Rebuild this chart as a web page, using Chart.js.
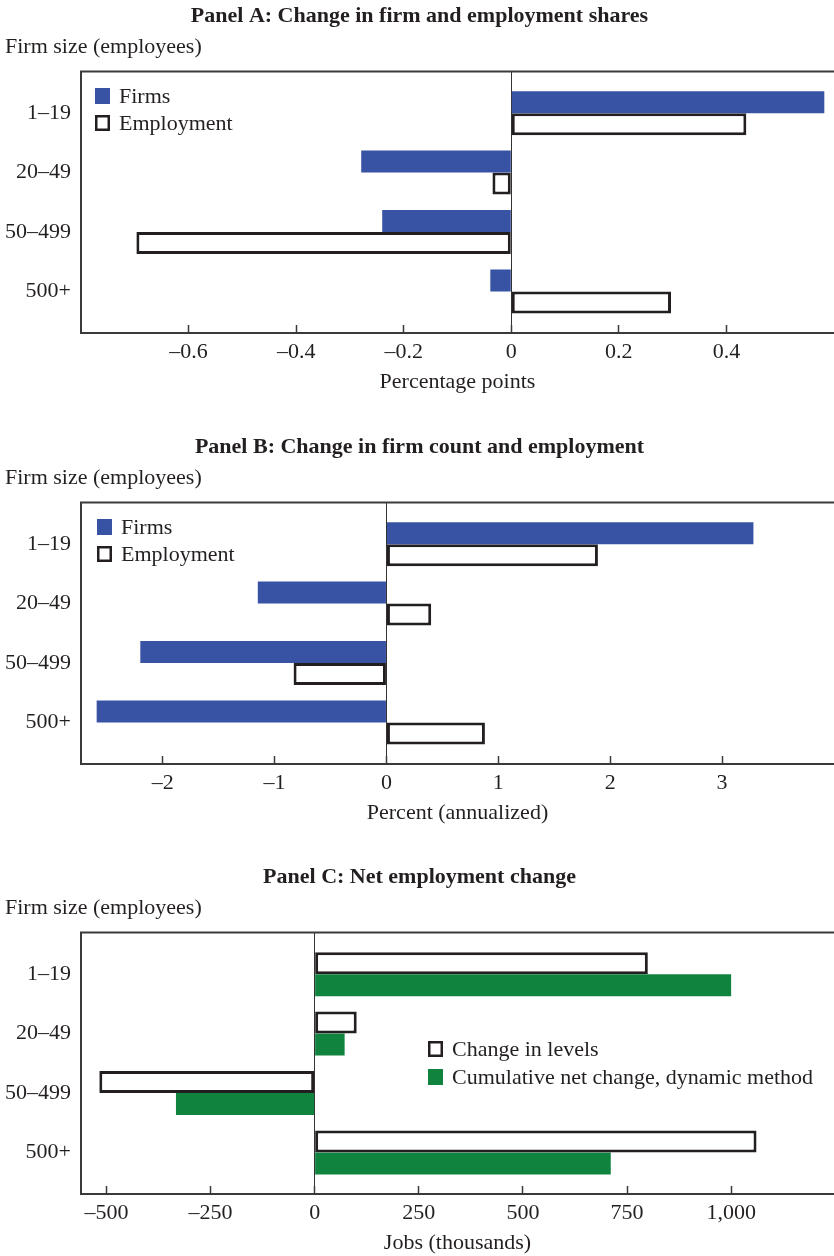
<!DOCTYPE html>
<html><head><meta charset="utf-8">
<script src="https://cdn.jsdelivr.net/npm/chart.js@4.4.0/dist/chart.umd.min.js"></script>
<style>
html,body{margin:0;padding:0;background:#fff;}
#wrap{position:relative;width:834px;height:1256px;overflow:hidden;background:#fff;}
.panel{position:absolute;left:0;width:834px;height:395px;}
</style></head><body>
<div id="wrap">
<div class="panel" style="top:0px"><canvas id="cA" width="834" height="395"></canvas></div>
<div class="panel" style="top:431px"><canvas id="cB" width="834" height="395"></canvas></div>
<div class="panel" style="top:861px"><canvas id="cC" width="834" height="395"></canvas></div>
</div>
<script>
// ---- data ----
const categories = ['1–19', '20–49', '50–499', '500+'];

const panelA_firms = [0.582, -0.279, -0.240, -0.039];
const panelA_employment = [0.437, -0.035, -0.697, 0.297];
const panelA_ticks = [-0.6, -0.4, -0.2, 0, 0.2, 0.4];

const panelB_firms = [3.28, -1.15, -2.20, -2.59];
const panelB_employment = [1.89, 0.40, -0.83, 0.88];
const panelB_ticks = [-2, -1, 0, 1, 2, 3];

const panelC_levels = [800, 101, -517, 1061];
const panelC_dynamic = [1000, 72, -333, 711];
const panelC_ticks = [-500, -250, 0, 250, 500, 750, 1000];

// ---- styling ----
const FONT = 'Liberation Serif';
const INK = '#231f20';
const BLUE = '#3953a4';
const GREEN = '#10843f';

function fmt(v) {
  const a = Math.abs(v).toLocaleString('en-US', {maximumFractionDigits: 2});
  return (v < 0 ? '–' : '') + a;
}
function toPoints(arr) { return arr.map((v, i) => ({x: v, y: i})); }

function filled(label, arr, color) {
  return {label, data: toPoints(arr), backgroundColor: color, borderWidth: 0, _outline: false};
}
function outline(label, arr) {
  return {label, data: toPoints(arr), backgroundColor: '#ffffff', borderColor: INK,
          borderWidth: 3, borderSkipped: false, _outline: true};
}

const framePlugin = {
  id: 'frame',
  beforeDatasetsDraw(chart) {
    const {ctx, chartArea: a} = chart;
    ctx.save();
    ctx.strokeStyle = '#3a3a3a';
    ctx.lineWidth = 2;
    ctx.beginPath();
    ctx.moveTo(a.right + 2, a.top);
    ctx.lineTo(a.left, a.top);
    ctx.lineTo(a.left, a.bottom);
    ctx.lineTo(a.right + 2, a.bottom);
    ctx.stroke();
    ctx.restore();
  }
};

const innerLegend = {
  id: 'innerLegend',
  afterDatasetsDraw(chart, args, opts) {
    const ctx = chart.ctx;
    ctx.save();
    ctx.font = '22px "' + FONT + '"';
    ctx.textBaseline = 'middle';
    ctx.textAlign = 'left';
    chart.data.datasets.forEach((ds, i) => {
      const x = opts.x, y = opts.y + i * opts.row;
      if (ds._outline) {
        ctx.fillStyle = INK;
        ctx.fillRect(x, y, 15, 16);
        ctx.fillStyle = '#fff';
        ctx.fillRect(x + 2.5, y + 2.5, 10, 11);
      } else {
        ctx.fillStyle = ds.backgroundColor;
        ctx.fillRect(x, y, 15, 16);
      }
      ctx.fillStyle = INK;
      ctx.fillText(ds.label, x + 24, y + 9);
    });
    ctx.restore();
  }
};

function makePanel(id, title, xTitle, datasets, xMin, xMax, tickVals, legend) {
  return new Chart(document.getElementById(id), {
    type: 'bar',
    data: {datasets},
    plugins: [framePlugin, innerLegend],
    options: {
      indexAxis: 'y',
      responsive: false,
      animation: false,
      layout: {padding: {left: 5, right: 0, top: 0, bottom: 0}},
      datasets: {bar: {categoryPercentage: 0.74, barPercentage: 1.0}},
      plugins: {
        legend: {display: false},
        tooltip: {enabled: false},
        title: {display: true, text: title, color: INK,
                font: {family: FONT, size: 22, weight: 'bold'},
                padding: {top: 2.8, bottom: 5.2}},
        subtitle: {display: true, text: 'Firm size (employees)', align: 'start', color: INK,
                   font: {family: FONT, size: 22, weight: 'normal'},
                   padding: {top: 0, bottom: 10.8}},
        innerLegend: legend
      },
      scales: {
        y: {
          type: 'linear', reverse: true, offset: false,
          min: -0.7, max: 3.7,
          afterBuildTicks: s => { s.ticks = categories.map((c, i) => ({value: i})); },
          afterFit: s => { s.width = 76; },
          ticks: {callback: v => categories[v], color: INK, padding: 10,
                  font: {family: FONT, size: 22}},
          grid: {display: false, drawTicks: false},
          border: {display: false}
        },
        x: {
          type: 'linear', min: xMin, max: xMax,
          afterBuildTicks: s => { s.ticks = tickVals.map(v => ({value: v})); },
          afterFit: s => { s.height = 62; },
          ticks: {callback: v => fmt(v), color: INK, padding: 14, maxRotation: 0,
                  autoSkip: false, font: {family: FONT, size: 22}},
          grid: {drawOnChartArea: true, drawTicks: true, tickLength: -8,
                 color: c => (c.tick && c.tick.value === 0) ? '#333' : 'rgba(0,0,0,0)',
                 lineWidth: 1, tickColor: '#3a3a3a', tickWidth: 1.5},
          border: {display: false},
          title: {display: true, text: xTitle, color: INK, padding: 0,
                  font: {family: FONT, size: 22}}
        }
      }
    }
  });
}

makePanel('cA', 'Panel A: Change in firm and employment shares', 'Percentage points',
  [filled('Firms', panelA_firms, BLUE), outline('Employment', panelA_employment)],
  -0.8, 0.6, panelA_ticks, {x: 95, y: 88, row: 27});

makePanel('cB', 'Panel B: Change in firm count and employment', 'Percent (annualized)',
  [filled('Firms', panelB_firms, BLUE), outline('Employment', panelB_employment)],
  -2.73, 4, panelB_ticks, {x: 97, y: 88, row: 27});

makePanel('cC', 'Panel C: Net employment change', 'Jobs (thousands)',
  [outline('Change in levels', panelC_levels), filled('Cumulative net change, dynamic method', panelC_dynamic, GREEN)],
  -561, 1247, panelC_ticks, {x: 428, y: 180, row: 28});
</script>
</body></html>
